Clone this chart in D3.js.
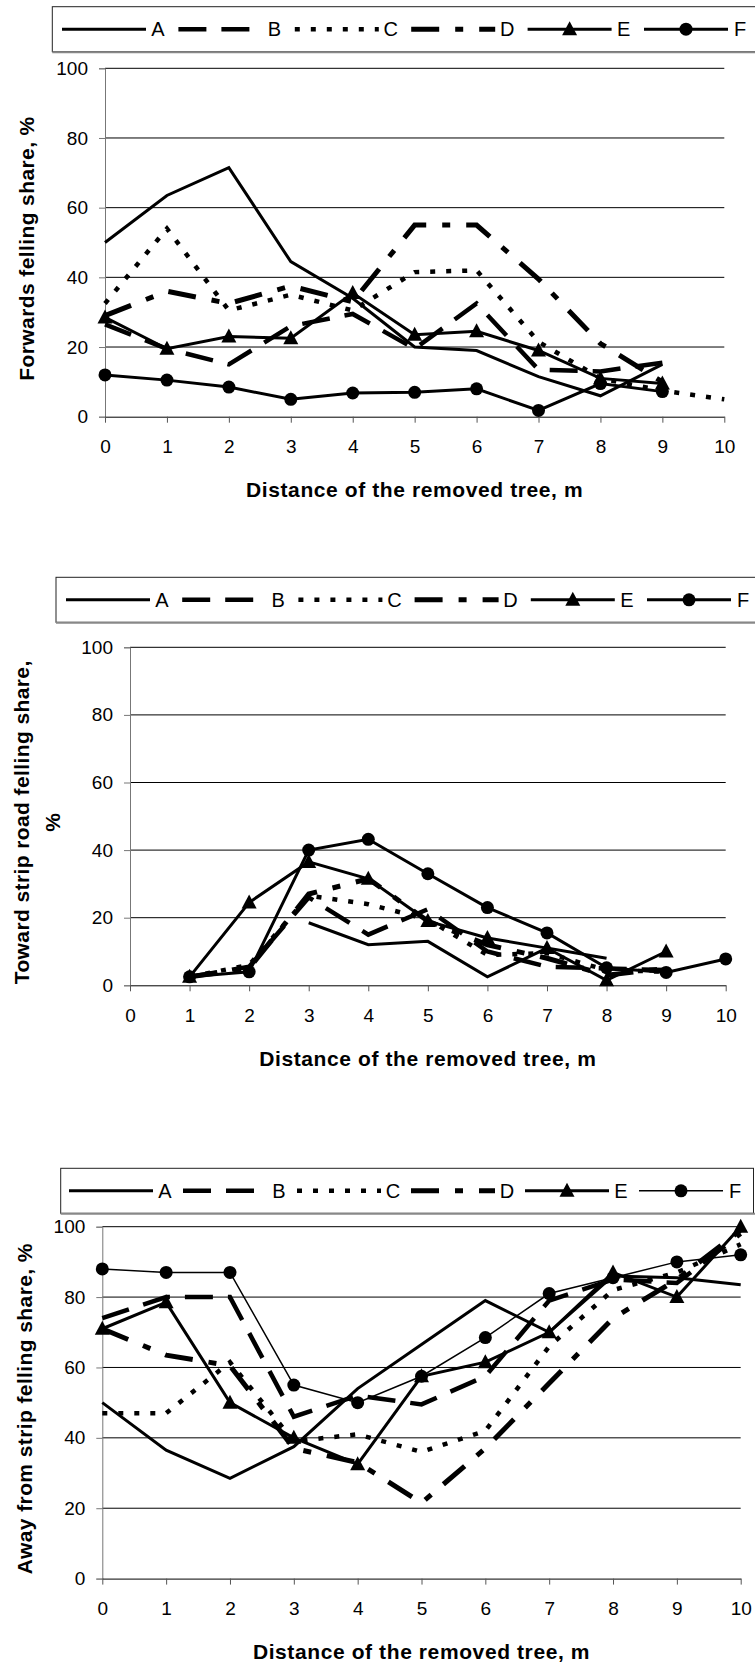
<!DOCTYPE html>
<html>
<head>
<meta charset="utf-8">
<script src="https://cdn.jsdelivr.net/npm/d3@7"></script>
<style>
  body { margin: 0; background: #fff; }
  svg { display: block; font-family: "Liberation Sans", Arial, sans-serif; }
</style>
</head>
<body>
<svg id="chart" width="755" height="1665"></svg>
<script>
// distance of the removed tree, m
const xTicks = [0, 1, 2, 3, 4, 5, 6, 7, 8, 9, 10];
const yTicks = [0, 20, 40, 60, 80, 100];
const seriesNames = ["A", "B", "C", "D", "E", "F"];

// forwards felling share, %
const fwdA = [50, 63.5, 71.5, 44.5, 34, 20, 19, 11.5, 6, 15];
const fwdB = [26.5, 19.5, 15, 26, 29.5, 19.5, 32.5, 13.5, 13, 15.5];
const fwdC = [32.5, 54, 30.5, 35, 30.5, 41.5, 42, 21.5, 11, 7.5, 5];
const fwdD = [29, 36, 32.5, 37.5, 33, 55, 55, 39.5, 21, 10];
const fwdE = [28.5, 19.5, 23, 22.5, 35.5, 23.5, 24.5, 19, 11, 9.5];
const fwdF = [12, 10.5, 8.5, 5, 6.8, 7, 8, 1.8, 9.5, 7.2];

// toward strip road felling share, %
const towA = [null, null, null, 18.5, 12, 13, 2.5, 11, 8, null, null];
const towB = [null, 2.5, 5.5, 26, 15, 22.5, 10, 5.5, 5, 4.5, null];
const towC = [null, 2.5, 6, 26.5, 24, 19.5, 9, 9.5, 4.5, 4, null];
const towD = [null, 2.5, 5, 27, 31.5, 19, 12, 8, 3, 5, null];
const towE = [null, 2.5, 24.5, 36.5, 31.5, 19, 14, 11, 1.5, 10, null];
const towF = [null, 2.5, 4, 40, 43.2, 33, 23, 15.5, 5.2, 3.8, 7.8];

// away from strip felling share, %
const awyA = [50, 36.5, 28.5, 37.5, 54, 66.5, 79, 70, 86, 85.5, 83.5];
const awyB = [74, 80, 80, 46, 52, 49.5, 57.5, 79, 85, 84, 98];
const awyC = [47, 47, 61.5, 39, 41, 36, 42, 66, 82, 87, 95];
const awyD = [71, 63.5, 60.5, 37, 33, 21.5, 37, 55.5, 74, 85, 99];
const awyE = [71, 78.5, 50, 40, 32.5, 57.5, 61.5, 70, 87, 80, 100];
const awyF = [88, 87, 87, 55, 50, 57.5, 68.5, 81, 85.5, 90, 92];

const styles = {
  A: { width: 3, dash: null, marker: null },
  B: { width: 4.5, dash: "28,15", marker: null },
  C: { width: 4.5, dash: "5,11", marker: null },
  D: { width: 5, dash: "28,16,8,16", marker: null },
  E: { width: 3, dash: null, marker: "triangle" },
  F: { width: 3, dash: null, marker: "circle" },
};

const svg = d3.select("#chart");

function drawChart(cfg) {
  const x = d3.scaleLinear().domain([0, 10]).range([cfg.left, cfg.right]);
  const y = d3.scaleLinear().domain([0, 100]).range([cfg.bottom, cfg.top]);
  const g = svg.append("g");

  // legend
  const lg = g.append("g");
  lg.append("rect")
    .attr("x", cfg.legendX).attr("y", cfg.legendY)
    .attr("width", 755 - cfg.legendX + (cfg.legendOpen ? 5 : -1.5))
    .attr("height", 45)
    .attr("fill", "#fff").attr("stroke", "#222").attr("stroke-width", 1);
  lg.append("line")
    .attr("x1", cfg.legendX).attr("x2", 755)
    .attr("y1", cfg.legendY + 45.5).attr("y2", cfg.legendY + 45.5)
    .attr("stroke", "#888").attr("stroke-width", 2);
  const ly = cfg.legendY + 22.5;
  seriesNames.forEach((name, i) => {
    const cx = cfg.legendFirst + i * cfg.legendStep;
    const st = styles[name];
    const w = name === "F" && cfg.thinF ? 1.5 : st.width;
    lg.append("line")
      .attr("x1", cx - 96).attr("x2", cx - 12)
      .attr("y1", ly).attr("y2", ly)
      .attr("stroke", "#000").attr("stroke-width", w)
      .attr("stroke-dasharray", st.dash);
    if (st.marker) drawMarker(lg, st.marker, cx - 54, ly);
    lg.append("text")
      .attr("x", cx).attr("y", ly)
      .attr("text-anchor", "middle").attr("dominant-baseline", "central")
      .attr("font-size", 20).text(name);
  });

  // gridlines
  g.append("g").selectAll("line")
    .data(yTicks.filter((d) => d > 0))
    .join("line")
    .attr("x1", cfg.left).attr("x2", cfg.right)
    .attr("y1", (d) => y(d)).attr("y2", (d) => y(d))
    .attr("stroke", "#000").attr("stroke-width", 1);

  // y axis
  const ya = g.append("g")
    .attr("transform", `translate(${cfg.left},0)`)
    .call(d3.axisLeft(y).tickValues(yTicks).tickSize(6).tickPadding(11));
  ya.select(".domain").attr("stroke", "#777");
  ya.selectAll(".tick line").attr("stroke", "#777");
  ya.selectAll("text").attr("font-size", 19).attr("fill", "#000")
    .attr("font-family", null);

  // x axis
  const xa = g.append("g")
    .attr("transform", `translate(0,${cfg.bottom})`)
    .call(d3.axisBottom(x).tickValues(xTicks).tickSize(6).tickSizeOuter(0));
  xa.select(".domain").attr("stroke", "#000");
  xa.selectAll(".tick line").attr("stroke", "#555");
  xa.selectAll("text")
    .attr("y", 30).attr("dy", "0.35em")
    .attr("font-size", 19).attr("fill", "#000").attr("font-family", null);

  // axis titles
  g.append("text")
    .attr("x", (cfg.left + cfg.right) / 2).attr("y", cfg.bottom + 73)
    .attr("text-anchor", "middle").attr("dominant-baseline", "central")
    .attr("font-size", 21).attr("font-weight", "bold")
    .attr("letter-spacing", 0.6)
    .text("Distance of the removed tree, m");

  cfg.yTitle.forEach((line, i) => {
    const tx = cfg.yTitleX[i];
    const ty = (cfg.top + cfg.bottom) / 2 + 6;
    g.append("text")
      .attr("transform", `translate(${tx},${ty}) rotate(-90)`)
      .attr("text-anchor", "middle").attr("dominant-baseline", "central")
      .attr("font-size", 21).attr("font-weight", "bold")
      .attr("letter-spacing", 0.4)
      .text(line);
  });

  // series
  const line = d3.line()
    .defined((d) => d.v != null)
    .x((d) => x(d.i))
    .y((d) => y(d.v));

  cfg.series.forEach((values, k) => {
    const name = seriesNames[k];
    const st = styles[name];
    const pts = values.map((v, i) => ({ i, v }));
    const w = name === "F" && cfg.thinF ? 1.5 : st.width;
    g.append("path")
      .datum(pts)
      .attr("d", line)
      .attr("fill", "none")
      .attr("stroke", "#000")
      .attr("stroke-width", w)
      .attr("stroke-dasharray", st.dash)
      .attr("stroke-linejoin", "miter");
    if (st.marker) {
      pts.filter((d) => d.v != null).forEach((d) =>
        drawMarker(g, st.marker, x(d.i), y(d.v)));
    }
  });
}

function drawMarker(sel, type, cx, cy) {
  if (type === "circle") {
    sel.append("circle").attr("cx", cx).attr("cy", cy).attr("r", 6.5)
      .attr("fill", "#000");
  } else {
    sel.append("path")
      .attr("d", `M${cx},${cy - 8}L${cx + 7.5},${cy + 6}L${cx - 7.5},${cy + 6}Z`)
      .attr("fill", "#000");
  }
}

drawChart({
  left: 105, right: 724.3, top: 68.3, bottom: 416.7,
  legendX: 52.3, legendY: 6.7, legendFirst: 158, legendStep: 116.4, legendOpen: true,
  yTitle: ["Forwards felling share, %"], yTitleX: [26],
  series: [fwdA, fwdB, fwdC, fwdD, fwdE, fwdF],
});

drawChart({
  left: 130, right: 725.7, top: 647.3, bottom: 985.3,
  legendX: 56, legendY: 577.3, legendFirst: 162, legendStep: 116.2, legendOpen: true,
  yTitle: ["Toward strip road felling share,", "%"], yTitleX: [21, 52],
  series: [towA, towB, towC, towD, towE, towF],
});

drawChart({
  left: 102.3, right: 740.7, top: 1226.7, bottom: 1578.6,
  legendX: 60.7, legendY: 1168.3, legendFirst: 165, legendStep: 114, legendOpen: false,
  yTitle: ["Away from strip felling share, %"], yTitleX: [24],
  series: [awyA, awyB, awyC, awyD, awyE, awyF],
  thinF: true,
});
</script>
</body>
</html>
